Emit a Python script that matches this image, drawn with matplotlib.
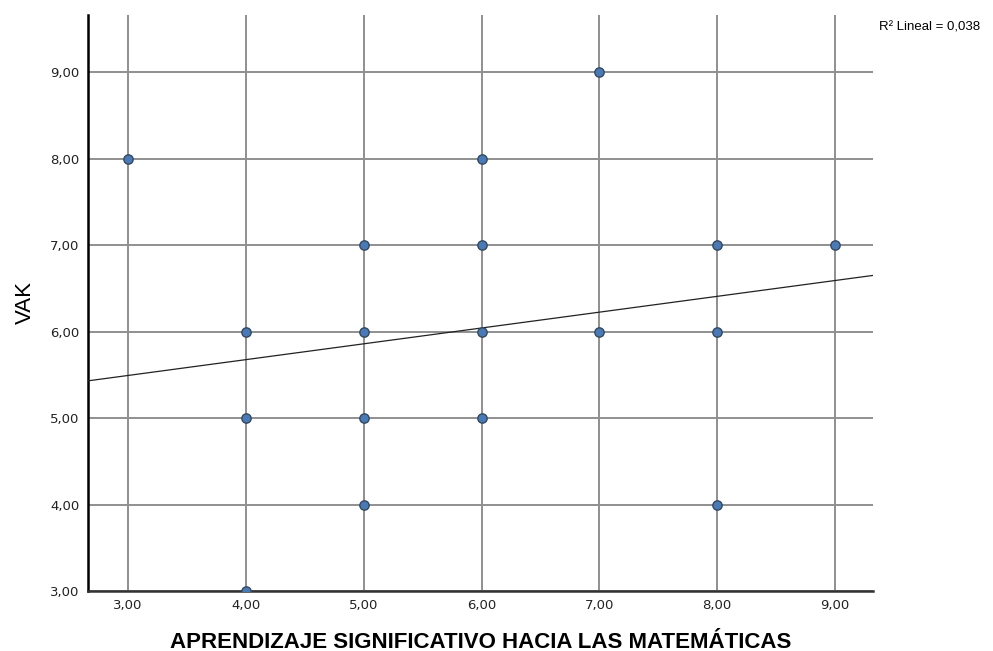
import matplotlib
matplotlib.use("Agg")
from matplotlib import pyplot as plt
import numpy as np

# data
x_vals = [3, 4, 4, 4, 5, 5, 5, 5, 6, 6, 6, 6, 7, 7, 8, 8, 8, 9]
y_vals = [8, 6, 5, 3, 7, 6, 5, 4, 8, 7, 6, 5, 9, 6, 7, 6, 4, 7]
# fitted line (intercept, slope) as drawn in the picture
fit_intercept = 4.943
fit_slope = 0.183
r2_text = "R² Lineal = 0,038"
ticks = [3, 4, 5, 6, 7, 8, 9]


def fmt(v, pos=None):
    return ("%.2f" % v).replace(".", ",")


def main():
    fig = plt.figure(figsize=(9.93, 6.51), dpi=100)
    ax = fig.add_axes([88 / 993, 1 - 591 / 651, (873 - 88) / 993, (591 - 15) / 651])
    xmin, xmax = 2.661, 9.322
    ymin, ymax = 3.0, 9.66
    ax.set_xlim(xmin, xmax)
    ax.set_ylim(ymin, ymax)

    ax.set_xticks(ticks)
    ax.set_yticks(ticks)
    ax.xaxis.set_major_formatter(plt.FuncFormatter(fmt))
    ax.yaxis.set_major_formatter(plt.FuncFormatter(fmt))
    ax.grid(True, color="#8f8f8f", linewidth=1.4, zorder=0)
    ax.set_axisbelow(True)
    ax.tick_params(length=0, labelsize=9.5, pad=6, colors="#222222")
    for lab in ax.get_xticklabels() + ax.get_yticklabels():
        lab.set_family("DejaVu Sans")

    ax.spines["top"].set_visible(False)
    ax.spines["right"].set_visible(False)
    ax.spines["left"].set_color("black")
    ax.spines["left"].set_linewidth(1.8)
    ax.spines["bottom"].set_color("#333333")
    ax.spines["bottom"].set_linewidth(1.8)

    xs = np.array([xmin, xmax])
    ax.plot(xs, fit_intercept + fit_slope * xs, color="#222222", linewidth=0.9, zorder=3)
    ax.scatter(x_vals, y_vals, s=45, color="#4a7ab6", edgecolors="#34495e",
               linewidths=1.0, zorder=4)

    ax.set_xlabel("APRENDIZAJE SIGNIFICATIVO HACIA LAS MATEMÁTICAS",
                  family="Liberation Sans", fontweight="bold", fontsize=16, labelpad=14)
    ax.set_ylabel("VAK", family="Liberation Sans", fontsize=16, labelpad=10)

    fig.text(879 / 993, 1 - 28 / 651, r2_text, family="Liberation Sans",
             fontsize=9.5, va="center", ha="left")

    plt.savefig("out.png", dpi=100)


if __name__ == "__main__":
    main()
